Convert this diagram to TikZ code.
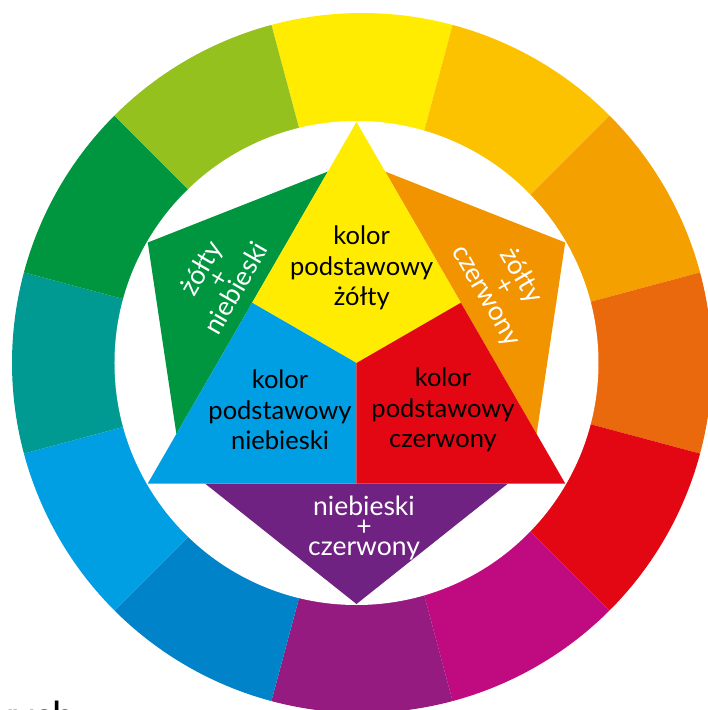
\documentclass[tikz,border=0pt]{standalone}
\usepackage{fontspec}
\setmainfont{Lato}
\usetikzlibrary{calc}

% kolory kola
\definecolor{kZolty}{HTML}{FFEC00}
\definecolor{kZoltoPom}{HTML}{FCC200}
\definecolor{kPom}{HTML}{F4A000}
\definecolor{kCzerwPom}{HTML}{EA690C}
\definecolor{kCzerwony}{HTML}{E30613}
\definecolor{kMagenta}{HTML}{C00A80}
\definecolor{kFiolet}{HTML}{951B81}
\definecolor{kGranat}{HTML}{0083C9}
\definecolor{kNiebieski}{HTML}{009FE3}
\definecolor{kMorski}{HTML}{009A93}
\definecolor{kZielony}{HTML}{009640}
\definecolor{kZoltoZiel}{HTML}{95C11F}
% kolory trojkatow
\definecolor{tPom}{HTML}{F29400}
\definecolor{tFiolet}{HTML}{6F2281}

\tikzset{
  podst/.style={align=center, inner sep=0pt, font=\fontsize{25.5}{30.5}\selectfont},
  pochodny/.style={align=center, inner sep=0pt, text=white, font=\fontsize{26.5}{20}\selectfont}
}

\begin{document}
\begin{tikzpicture}[x=1pt,y=1pt] %Kolo barw Ittena
        \useasboundingbox (-362,-347) rectangle (346,363);

        % pierscien 12 barw
        \fill[kZolty] (0,0) -- (75:350) arc[start angle=75, end angle=105, radius=350] -- cycle;
        \fill[kZoltoPom] (0,0) -- (45:350) arc[start angle=45, end angle=75, radius=350] -- cycle;
        \fill[kPom] (0,0) -- (15:350) arc[start angle=15, end angle=45, radius=350] -- cycle;
        \fill[kCzerwPom] (0,0) -- (-15:350) arc[start angle=-15, end angle=15, radius=350] -- cycle;
        \fill[kCzerwony] (0,0) -- (-45:350) arc[start angle=-45, end angle=-15, radius=350] -- cycle;
        \fill[kMagenta] (0,0) -- (-75:350) arc[start angle=-75, end angle=-45, radius=350] -- cycle;
        \fill[kFiolet] (0,0) -- (-105:350) arc[start angle=-105, end angle=-75, radius=350] -- cycle;
        \fill[kGranat] (0,0) -- (-135:350) arc[start angle=-135, end angle=-105, radius=350] -- cycle;
        \fill[kNiebieski] (0,0) -- (-165:350) arc[start angle=-165, end angle=-135, radius=350] -- cycle;
        \fill[kMorski] (0,0) -- (165:350) arc[start angle=165, end angle=195, radius=350] -- cycle;
        \fill[kZielony] (0,0) -- (135:350) arc[start angle=135, end angle=165, radius=350] -- cycle;
        \fill[kZoltoZiel] (0,0) -- (105:350) arc[start angle=105, end angle=135, radius=350] -- cycle;

        \coordinate (S) at (-5.5,0);
        \fill[white] (S) circle (242);

        % trojkat barw podstawowych
        \coordinate (T) at ($(S)+(90:241)$);
        \coordinate (BL) at ($(S)+(210:241)$);
        \coordinate (BR) at ($(S)+(330:241)$);
        \coordinate (ML) at ($(T)!0.5!(BL)$);
        \coordinate (MR) at ($(T)!0.5!(BR)$);
        \coordinate (MB) at ($(BL)!0.5!(BR)$);

        % trojkaty barw pochodnych
        \coordinate (G1) at ($(T)!0.137!(BL)$);
        \coordinate (G2) at ($(T)!0.863!(BL)$);
        \coordinate (GA) at ($(S)+(150:241)$);
        \coordinate (O1) at ($(T)!0.137!(BR)$);
        \coordinate (O2) at ($(T)!0.863!(BR)$);
        \coordinate (OA) at ($(S)+(30:241)$);
        \coordinate (P1) at ($(BL)!0.137!(BR)$);
        \coordinate (P2) at ($(BL)!0.863!(BR)$);
        \coordinate (PA) at ($(S)+(270:241)$);

        \fill[kZielony] (G1) -- (GA) -- (G2) -- cycle;
        \fill[tPom] (O1) -- (OA) -- (O2) -- cycle;
        \fill[tFiolet] (P1) -- (PA) -- (P2) -- cycle;

        \fill[kZolty] (T) -- (ML) -- (S) -- (MR) -- cycle;
        \fill[kNiebieski] (BL) -- (MB) -- (S) -- (ML) -- cycle;
        \fill[kCzerwony] (BR) -- (MR) -- (S) -- (MB) -- cycle;

        \node[podst] (zolty) at (-0.3,95) {kolor\\podstawowy\\żółty};
        \node[podst] (niebieski) at (-82,-47) {kolor\\podstawowy\\niebieski};
        \node[podst] (czerwony) at (81,-47) {kolor\\podstawowy\\czerwony};

        \node[pochodny, rotate=60] (zielony) at (-144,85) {żółty\\+\\niebieski};
        \node[pochodny, rotate=-60] (pomaranczowy) at (141.5,77) {żółty\\+\\czerwony};
        \node[pochodny] (fioletowy) at (2,-165) {niebieski\\+\\czerwony};

        \node[anchor=north east, inner sep=0pt, font=\fontsize{40}{48}\selectfont] (podpis) at (-287,-337.5) {wych};
\end{tikzpicture}
\end{document}
